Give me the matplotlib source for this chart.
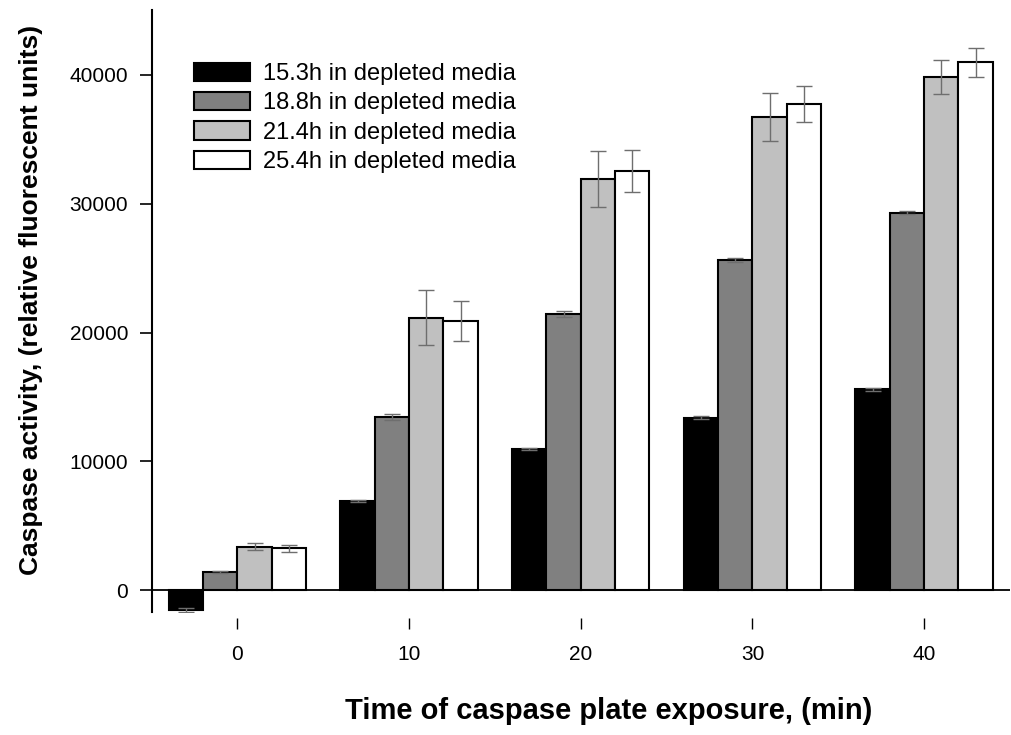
import matplotlib.pyplot as plt
import numpy as np

plt.rcParams['font.family'] = ['Liberation Sans', 'DejaVu Sans']

times = [0, 10, 20, 30, 40]
labels = ["15.3h in depleted media", "18.8h in depleted media",
          "21.4h in depleted media", "25.4h in depleted media"]
colors = ["#000000", "#808080", "#c0c0c0", "#ffffff"]

# mean caspase activity per series, one value per exposure time
means = [
    [-1550, 6900, 11000, 13400, 15600],
    [1400, 13450, 21450, 25600, 29300],
    [3400, 21150, 31900, 36700, 39800],
    [3250, 20900, 32500, 37750, 40950],
]
errors = [
    [150, 80, 80, 100, 100],
    [80, 200, 250, 150, 130],
    [250, 2150, 2170, 1860, 1320],
    [250, 1550, 1630, 1400, 1120],
]

fig = plt.figure(figsize=(10.11, 7.35), dpi=100)
ax = fig.add_axes([0.150, 0.167, 0.849, 0.819])

x = np.array(times, dtype=float)
offsets = [-3, -1, 1, 3]
for i in range(4):
    ax.bar(x + offsets[i], means[i], width=2, color=colors[i],
           edgecolor="black", linewidth=1.5, label=labels[i], zorder=2)
    ax.errorbar(x + offsets[i], means[i], yerr=errors[i], fmt="none",
                ecolor="#6e6e6e", elinewidth=1, capsize=6, capthick=1, zorder=3)

ax.axhline(0, color="black", linewidth=1.3, zorder=1)

ax.set_xlim(-5, 45)
ax.set_ylim(-1700, 45000)
ax.set_xticks(times)
ax.set_yticks([0, 10000, 20000, 30000, 40000])

for s in ["top", "right", "bottom"]:
    ax.spines[s].set_visible(False)
ax.spines["bottom"].set_position(("outward", 4))
ax.spines["left"].set_linewidth(1.5)

ax.tick_params(axis="x", direction="out", length=8, width=1, pad=11.5, labelsize=15)
ax.tick_params(axis="y", direction="out", length=9, width=1.2, pad=8, labelsize=15)

ax.set_xlabel("Time of caspase plate exposure, (min)", fontsize=21,
              fontweight="bold")
ax.xaxis.set_label_coords(0.532, -0.140)
ax.set_ylabel("Caspase activity, (relative fluorescent units)", fontsize=19,
              fontweight="bold")
ax.yaxis.set_label_coords(-0.127, 0.518)

ax.legend(loc="upper left", bbox_to_anchor=(0.024, 0.948), frameon=False,
          fontsize=17, handlelength=2.4, handleheight=0.8,
          labelspacing=0.3, handletextpad=0.55)

fig.savefig("out.png", dpi=100)
